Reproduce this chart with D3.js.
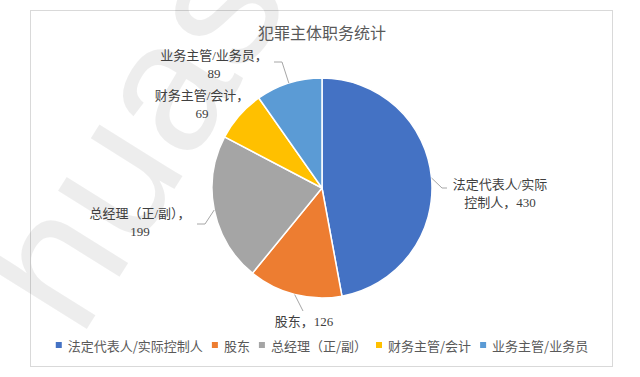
<!DOCTYPE html>
<html>
<head>
<meta charset="utf-8">
<script src="https://cdn.jsdelivr.net/npm/d3@7"></script>
<style>
  html, body { margin: 0; padding: 0; background: #fff; }
  svg { display: block; }
</style>
</head>
<body>
<svg id="chart" width="640" height="377"></svg>
<script>
const categories = ["法定代表人/实际控制人", "股东", "总经理（正/副）", "财务主管/会计", "业务主管/业务员"];
const values = [430, 126, 199, 69, 89];
const colors = ["#4472C4", "#ED7D31", "#A5A5A5", "#FFC000", "#5B9BD5"];
// label text split into lines like the excel labels
const labelLines = [
    ["法定代表人/实际", "控制人，430"],
    ["股东，126"],
    ["总经理（正/副），", "199"],
    ["财务主管/会计，", "69"],
    ["业务主管/业务员，", "89"]
];
const title = "犯罪主体职务统计";

const svg = d3.select("#chart");
const width = +svg.attr("width");
const height = +svg.attr("height");

const cx = 322, cy = 188, radius = 110;

// label placement (center x, first line y) and leader bends
const labelLayout = [
    { x: 500, y: 184, leader: [[442, 188], [447, 188]] },
    { x: 304, y: 321, leader: [[303, 311]] },
    { x: 140, y: 213, leader: [[205, 224], [197, 224]] },
    { x: 202, y: 95, leader: null },
    { x: 214, y: 55, leader: [[282, 62], [274, 62]] }
];

// frame
svg.append("rect")
    .attr("x", 30.5).attr("y", 10.5)
    .attr("width", 582).attr("height", 356)
    .attr("fill", "#fff")
    .attr("stroke", "#D9D9D9")
    .attr("stroke-width", 1);

// faint watermark (partly runs off the page, like the original)
svg.append("text")
    .attr("transform", "translate(80,340) rotate(-58)")
    .style("font-family", "'Liberation Sans', sans-serif")
    .style("font-size", "185px")
    .style("fill", "#000")
    .style("fill-opacity", 0.07)
    .text("huas");

svg.append("text")
    .attr("x", cx).attr("y", 33)
    .attr("text-anchor", "middle")
    .attr("dominant-baseline", "central")
    .style("font-family", "'Liberation Serif', 'Noto Sans CJK SC', serif")
    .style("font-size", "16px")
    .style("fill", "#595959")
    .text(title);

const pie = d3.pie().sort(null).value(d => d);
const arcs = pie(values);
const arc = d3.arc().innerRadius(0).outerRadius(radius);

const g = svg.append("g").attr("transform", `translate(${cx},${cy})`);

g.selectAll(".slice")
    .data(arcs)
    .join("path")
    .attr("class", "slice")
    .attr("d", arc)
    .attr("fill", (d, i) => colors[i])
    .attr("stroke", "#fff")
    .attr("stroke-width", 1.5);

// leader lines start on the rim at the slice mid angle
const leaders = svg.append("g");
arcs.forEach((d, i) => {
    const lay = labelLayout[i];
    if (!lay.leader) return;
    const a = (d.startAngle + d.endAngle) / 2;
    const start = [cx + radius * Math.sin(a), cy - radius * Math.cos(a)];
    leaders.append("path")
        .attr("d", d3.line()([start, ...lay.leader]))
        .attr("fill", "none")
        .attr("stroke", "#A6A6A6")
        .attr("stroke-width", 1);
});

const labels = svg.append("g")
    .style("font-family", "'Liberation Serif', 'Noto Sans CJK SC', serif")
    .style("font-size", "13px")
    .style("fill", "#404040");

labelLines.forEach((lines, i) => {
    const lay = labelLayout[i];
    lines.forEach((t, j) => {
        labels.append("text")
            .attr("x", lay.x)
            .attr("y", lay.y + j * 18)
            .attr("text-anchor", "middle")
            .attr("dominant-baseline", "central")
            .text(t);
    });
});

// legend, laid out by measured text widths
const legend = svg.append("g")
    .style("font-family", "'Noto Sans CJK SC', sans-serif")
    .style("font-size", "13px")
    .style("fill", "#595959");

const legendY = 345;
const items = legend.selectAll(".item")
    .data(categories)
    .join("g")
    .attr("class", "item");

items.append("rect")
    .attr("width", 6).attr("height", 6)
    .attr("y", legendY - 3)
    .attr("fill", (d, i) => colors[i]);

items.append("text")
    .attr("x", 12)
    .attr("y", legendY)
    .attr("dominant-baseline", "central")
    .text(d => d);

let xPos = 0;
const offsets = [];
items.each(function () {
    const w = d3.select(this).select("text").node().getComputedTextLength();
    offsets.push(xPos);
    xPos += 12 + w + 9;
});
const total = xPos - 9;
const startX = cx - total / 2;
items.attr("transform", (d, i) => `translate(${startX + offsets[i]},0)`);
</script>
</body>
</html>
